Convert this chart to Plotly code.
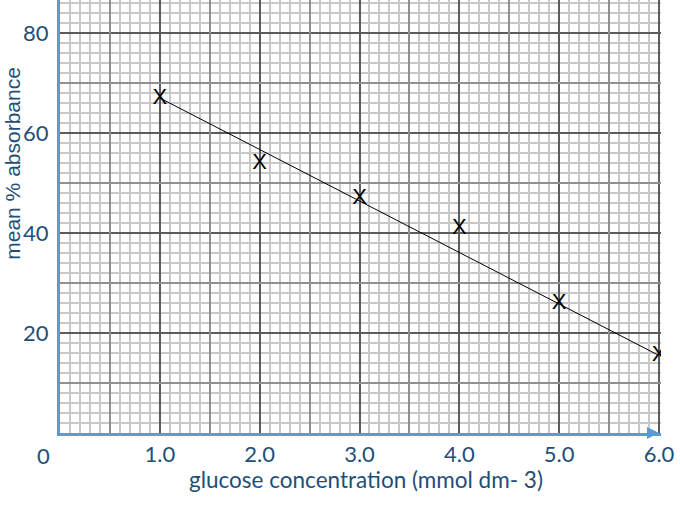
import plotly.graph_objects as go

# Data
conc = [1.0, 2.0, 3.0, 4.0, 5.0, 6.0]
absorbance = [67.0, 54.0, 47.0, 41.0, 26.0, 15.5]
fit_x = [1.0, 6.0]
fit_y = [67.0, 15.5]
x_tickvals = [1, 2, 3, 4, 5, 6]
x_ticktext = ["1.0", "2.0", "3.0", "4.0", "5.0", "6.0"]
y_tickvals = [20, 40, 60, 80]
x_mid = [0.5, 1.5, 2.5, 3.5, 4.5, 5.5]
y_mid = [10, 30, 50, 70]

NAVY = "#1F4E79"
AXBLUE = "#5B9BD5"
MAJOR = "#5c5c5c"
MID = "#909090"
MINOR = "#c8c8c8"

fig = go.Figure()
fig.add_trace(go.Scatter(x=[None], y=[None], xaxis="x2", yaxis="y2",
                         showlegend=False, hoverinfo="skip"))
fig.add_trace(go.Scatter(x=fit_x, y=fit_y, mode="lines",
                         line=dict(color="black", width=1), showlegend=False))
fig.add_trace(go.Scatter(x=conc, y=absorbance, mode="text", text=["X"] * len(conc),
                         textposition="middle center",
                         textfont=dict(family="Liberation Sans", size=22, color="black"),
                         showlegend=False))

xr = [0, 6.02]
yr = [0, 86.6]
fig.update_layout(
    width=680, height=510,
    margin=dict(l=60, r=19, t=0, b=77),
    paper_bgcolor="white", plot_bgcolor="white",
    xaxis=dict(range=xr, tickmode="array", tickvals=x_tickvals, ticktext=x_ticktext,
               showgrid=True, gridcolor=MAJOR, gridwidth=2,
               minor=dict(tickmode="linear", tick0=0, dtick=0.1, showgrid=True,
                          gridcolor=MINOR, gridwidth=1.5),
               zeroline=False, showline=True, linecolor=AXBLUE, linewidth=3,
               ticks="", ticklabelstandoff=0,
               tickfont=dict(family="Lato", size=22, color=NAVY),
               fixedrange=True),
    yaxis=dict(range=yr, tickmode="array", tickvals=y_tickvals,
               showgrid=True, gridcolor=MAJOR, gridwidth=2,
               minor=dict(tickmode="linear", tick0=0, dtick=2, showgrid=True,
                          gridcolor=MINOR, gridwidth=1.5),
               zeroline=False, showline=True, linecolor=AXBLUE, linewidth=3,
               ticks="", ticklabelstandoff=4,
               tickfont=dict(family="Lato", size=22, color=NAVY),
               fixedrange=True),
    xaxis2=dict(range=xr, overlaying="x", tickmode="array", tickvals=x_mid,
                showticklabels=False, showgrid=True, gridcolor=MID, gridwidth=1.5,
                zeroline=False, showline=False, ticks=""),
    yaxis2=dict(range=yr, overlaying="y", tickmode="array", tickvals=y_mid,
                showticklabels=False, showgrid=True, gridcolor=MID, gridwidth=1.5,
                zeroline=False, showline=False, ticks=""),
    annotations=[
        dict(text="mean % absorbance", textangle=-90, xref="paper", yref="paper",
             x=(12.5 - 60) / 601, y=0.623, xanchor="center", yanchor="middle",
             showarrow=False,
             font=dict(family="Liberation Sans", size=21, color=NAVY)),
        dict(text="glucose concentration (mmol dm- 3)", xref="paper", yref="paper",
             x=(366 - 60) / 601, y=-46 / 433, xanchor="center", yanchor="middle",
             showarrow=False, font=dict(family="Lato", size=22.5, color=NAVY)),
        dict(text="0", xref="paper", yref="paper", x=(43 - 60) / 601, y=-22 / 433,
             xanchor="center", yanchor="middle", showarrow=False,
             font=dict(family="Lato", size=22, color=NAVY)),
        dict(text="", xref="x", yref="y", x=6.0, y=0, ax=-10, ay=0,
             showarrow=True, arrowhead=2, arrowsize=0.8, arrowwidth=3, arrowcolor=AXBLUE),
    ],
)

fig.write_html("out.html")
